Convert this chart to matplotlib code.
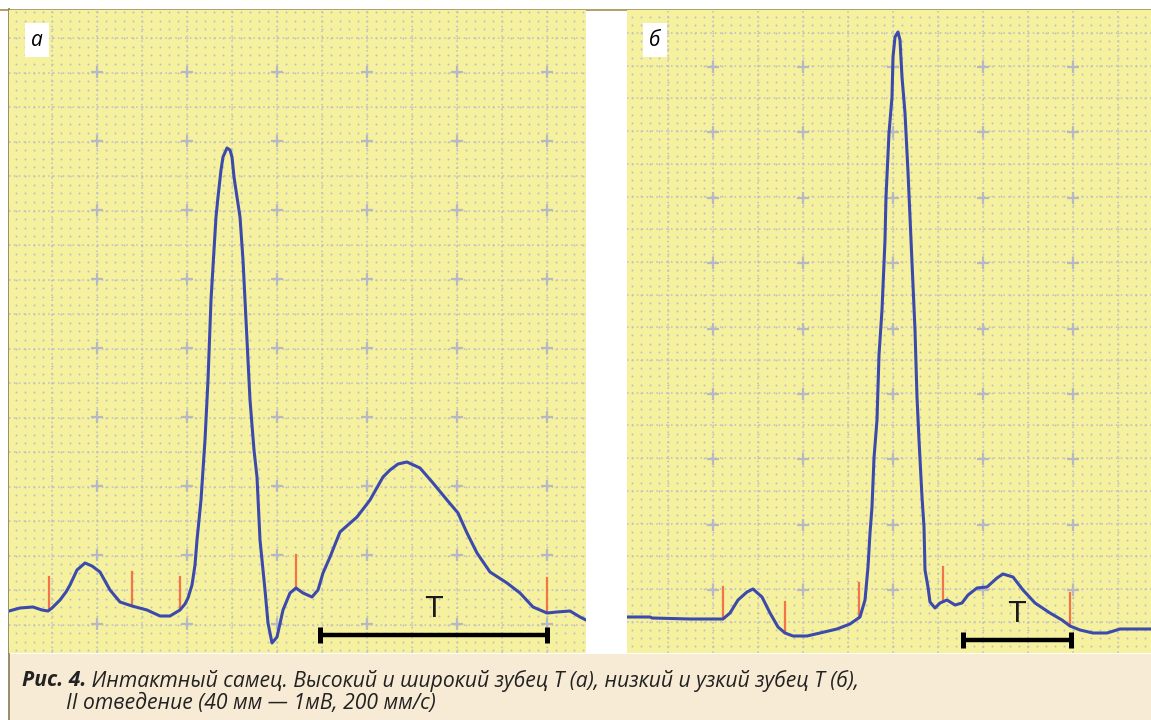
import numpy as np
import matplotlib.pyplot as plt

# traced ECG points, screen units of the original figure (x right, y down)
a_x = [9, 20, 33, 42, 48, 52, 60, 66, 70, 77, 85, 92, 100, 110, 120, 132, 147, 160, 170, 180,
       185, 188, 192, 195, 197, 201, 205, 208, 211, 214, 216, 218, 221, 223, 227, 230, 232, 234,
       237, 240, 243, 246, 250, 254, 257, 260, 265, 268, 272, 277, 283, 290, 296, 303, 312, 318,
       323, 330, 340, 357, 370, 383, 390, 398, 407, 420, 433, 447, 458, 467, 477, 490, 507, 520,
       533, 547, 557, 570, 580, 586]
a_y = [611, 608, 607, 610, 611, 608, 600, 592, 585, 570, 563, 566, 572, 590, 602, 606, 610, 616, 616, 610,
       604, 598, 585, 565, 540, 500, 440, 380, 300, 250, 217, 197, 170, 157, 148, 150, 157, 177,
       197, 217, 260, 320, 400, 450, 477, 540, 590, 623, 643, 637, 610, 593, 588, 593, 597, 590,
       573, 557, 532, 517, 500, 477, 470, 464, 462, 468, 483, 500, 513, 533, 553, 572, 583, 593,
       607, 613, 612, 611, 617, 620]

b_x = [627, 650, 652, 690, 723, 730, 738, 747, 753, 762, 770, 778, 785, 793, 807, 820, 837, 850,
       860, 865, 868, 870, 872, 874, 877, 879, 882, 885, 886, 889, 892, 893, 895, 898, 900, 902,
       905, 908, 910, 911, 913, 915, 917, 919, 922, 924, 925, 928, 930, 935, 940, 947, 955, 962,
       968, 977, 987, 997, 1003, 1013, 1023, 1035, 1050, 1062, 1070, 1080, 1093, 1107, 1120, 1151]
b_y = [617, 617, 618, 619, 619, 613, 600, 592, 589, 597, 613, 627, 633, 636, 636, 633, 629, 624,
       617, 600, 567, 533, 507, 458, 420, 355, 310, 240, 197, 133, 97, 57, 37, 32, 40, 77,
       113, 172, 217, 240, 285, 330, 397, 440, 497, 527, 570, 587, 602, 608, 603, 600, 605, 603,
       595, 588, 587, 578, 574, 577, 590, 603, 613, 620, 626, 630, 633, 633, 629, 629]

# red markers: x, top, bottom
a_marks = [(49, 577, 610), (132, 572, 606), (180, 577, 610), (296, 555, 588), (547, 578, 613)]
b_marks = [(723, 587, 619), (785, 602, 633), (859, 583, 617), (943, 567, 600), (1070, 593, 626)]

# T interval bars: x start, x end, y
a_bar = (320, 547, 635)
b_bar = (963, 1071, 640)

caption1_bold = 'Рис. 4.'
caption1 = ' Интактный самец. Высокий и широкий зубец Т (а), низкий и узкий зубец Т (б),'
caption2 = 'II отведение (40 мм — 1мВ, 200 мм/с)'

W, H = 1151, 720
fig = plt.figure(figsize=(W / 100, H / 100), dpi=100)
fig.patch.set_facecolor('white')

YEL = '#f6f19e'
GRID = '#bcbfc6'
BLUE = '#3c4aac'
RED = '#f2744a'


def panel(left, right, top, bottom, x0, dy, y0, xc, yc, xs, ys, marks, bar, label):
    ax = fig.add_axes([left / W, 1 - bottom / H, (right - left) / W, (bottom - top) / H])
    ax.set_facecolor(YEL)
    ax.set_xlim(left, right)
    ax.set_ylim(bottom, top)
    ax.set_xticks([])
    ax.set_yticks([])
    for s in ax.spines.values():
        s.set_visible(False)
    # minor dots
    mx = np.concatenate([np.arange(x0 - 9, left, -9.0), np.arange(x0, right, 9.0)])
    my = np.concatenate([np.arange(y0 - dy / 4, top, -dy / 4), np.arange(y0, bottom, dy / 4)])
    gx, gy = np.meshgrid(mx, my)
    ax.scatter(gx.ravel(), gy.ravel(), s=2.0, color=GRID, linewidths=0, zorder=1)
    # major dotted lines
    for x in np.arange(x0, right, 45):
        ax.axvline(x, color=GRID, lw=1.1, ls=(0, (1, 2.2)), zorder=1)
    for y in np.arange(y0, bottom, dy):
        ax.axhline(y, color=GRID, lw=1.1, ls=(0, (1, 2.2)), zorder=1)
    # crosses
    cx = np.arange(xc, right, 90)
    cy = np.arange(yc, bottom, 2 * dy)
    gx, gy = np.meshgrid(cx, cy)
    ax.plot(gx.ravel(), gy.ravel(), '+', ms=8, mew=1.6, color='#b6b8c4', zorder=1)
    # markers
    for mxx, t, b in marks:
        ax.plot([mxx, mxx], [t, b], color=RED, lw=1.6, zorder=2)
    ax.plot(xs, ys, color=BLUE, lw=2.2, zorder=3, solid_joinstyle='round')
    # T bar
    x1, x2, yb = bar
    ax.plot([x1, x2], [yb, yb], color='black', lw=3.2, solid_capstyle='butt', zorder=4)
    for xe in (x1, x2):
        ax.plot([xe, xe], [yb - 8, yb + 8], color='black', lw=3.6, solid_capstyle='butt', zorder=4)
    ax.text((x1 + x2) / 2, yb - 26, 'T', fontsize=20, ha='center', va='center',
            color='#1a1a1a', zorder=4)
    # panel label
    ax.text(left + 28, 40, label, fontsize=15, style='italic', ha='center', va='center',
            family='Open Sans',
            bbox=dict(boxstyle='square,pad=0.3', fc='white', ec='none'), zorder=5)
    return ax


panel(9, 586, 10, 653, 52, 34.5, 38, 97, 72, a_x, a_y, a_marks, a_bar, 'а')
panel(627, 1151, 10, 653, 668, 32.7, 33, 713, 67, b_x, b_y, b_marks, b_bar, 'б')

# caption band and borders
cap = fig.add_axes([0, 0, 1, 1], zorder=-1)
cap.set_xlim(0, W)
cap.set_ylim(H, 0)
cap.axis('off')
cap.axhspan(654, H, xmin=9 / W, xmax=1, color='#f8ebd6', lw=0)
cap.plot([0, W], [9.5, 9.5], color='#a8985c', lw=1.3)
cap.plot([9, 9], [9, H], color='#8f8462', lw=1.3)

FS = 15.2
t1 = fig.text(22 / W, 1 - 681 / H, caption1_bold, fontsize=FS, style='italic', weight='bold',
              family='Open Sans', va='center', color='#222222')
fig.canvas.draw()
bb = t1.get_window_extent()
fig.text(bb.x1 / W, 1 - 681 / H, caption1, fontsize=FS, style='italic',
         family='Open Sans', va='center', color='#222222')
fig.text(66 / W, 1 - 704 / H, caption2, fontsize=FS, style='italic',
         family='Open Sans', va='center', color='#222222')

fig.savefig('out.png', dpi=100, facecolor=fig.get_facecolor())
